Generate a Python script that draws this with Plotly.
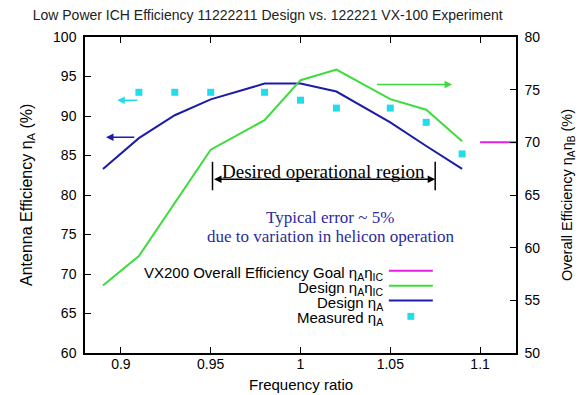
import plotly.graph_objects as go

# Frequency ratio samples for the design curves
freq_design = [0.89, 0.91, 0.93, 0.95, 0.98, 1.00, 1.02, 1.05, 1.07, 1.09]
design_eta_a = [83.3, 87.2, 90.1, 92.1, 94.1, 94.1, 93.1, 89.2, 86.2, 83.3]

freq_overall = [0.89, 0.91, 0.95, 0.98, 1.00, 1.02, 1.05, 1.07, 1.09]
design_eta_a_ic = [56.4, 59.2, 69.3, 72.1, 75.9, 76.9, 74.1, 73.1, 70.1]

# Measured antenna efficiency on the VX-100 experiment
freq_measured = [0.91, 0.93, 0.95, 0.98, 1.00, 1.02, 1.05, 1.07, 1.09]
measured_eta_a = [93.0, 93.0, 93.0, 93.0, 92.0, 91.0, 91.0, 89.2, 85.2]

# VX200 overall efficiency goal
goal_freq = [1.10, 1.12]
goal_value = [70.0, 70.0]

BLUE = "#1c1ca6"
GREEN = "#3ddc3d"
CYAN = "#22dcec"
MAGENTA = "#e61ee6"
NAVY_TEXT = "#2b2ba0"
SANS = "Liberation Sans, Arial, sans-serif"
SERIF = "Liberation Serif, Times New Roman, serif"

fig = go.Figure()

fig.add_trace(go.Scatter(x=goal_freq, y=goal_value, mode="lines",
                         line=dict(color=MAGENTA, width=2), yaxis="y2",
                         showlegend=False))
fig.add_trace(go.Scatter(x=freq_overall, y=design_eta_a_ic, mode="lines",
                         line=dict(color=GREEN, width=2), yaxis="y2",
                         showlegend=False))
fig.add_trace(go.Scatter(x=freq_design, y=design_eta_a, mode="lines",
                         line=dict(color=BLUE, width=2), showlegend=False))
fig.add_trace(go.Scatter(x=freq_measured, y=measured_eta_a, mode="markers",
                         marker=dict(color=CYAN, symbol="square", size=7),
                         showlegend=False))

annotations = []
shapes = []

# Arrows indicating which axis each curve belongs to
def axis_arrow(x_head, x_tail, y, color, yref="y"):
    annotations.append(dict(x=x_head, y=y, ax=x_tail, ay=y, xref="x", yref=yref,
                            axref="x", ayref=yref, showarrow=True, text="",
                            arrowhead=2, arrowsize=1, arrowwidth=1.5,
                            arrowcolor=color))

axis_arrow(0.898, 0.910, 92.0, CYAN)
axis_arrow(0.8917, 0.9083, 87.3, BLUE)
axis_arrow(1.0844, 1.0417, 75.5, GREEN, yref="y2")

# Desired operational region span
region_lo, region_hi = 0.951, 1.075
annotations.append(dict(x=region_hi, y=82.0, ax=region_lo, ay=82.0, xref="x", yref="y",
                        axref="x", ayref="y", showarrow=True, text="",
                        arrowhead=2, startarrowhead=2, arrowside="end+start",
                        arrowsize=1, arrowwidth=1.5, arrowcolor="black"))
for xv in (region_lo, region_hi):
    shapes.append(dict(type="line", xref="x", yref="y", x0=xv, x1=xv, y0=80.6, y1=84.2,
                       line=dict(color="black", width=1.5)))
annotations.append(dict(x=1.0128, y=83.0, xref="x", yref="y", showarrow=False,
                        text="Desired operational region",
                        font=dict(family=SERIF, size=19, color="black")))
annotations.append(dict(x=1.0167, y=77.2, xref="x", yref="y", showarrow=False,
                        text="Typical error ~ 5%",
                        font=dict(family=SERIF, size=17, color=NAVY_TEXT)))
annotations.append(dict(x=1.0167, y=74.8, xref="x", yref="y", showarrow=False,
                        text="due to variation in helicon operation",
                        font=dict(family=SERIF, size=17, color=NAVY_TEXT)))

# Key: labels on the left, line samples on the right
key_rows = [
    ("VX200 Overall Efficiency Goal η<sub>A</sub>η<sub>IC</sub>", MAGENTA, "line", 0.260),
    ("Design η<sub>A</sub>η<sub>IC</sub>", GREEN, "line", 0.213),
    ("Design η<sub>A</sub>", BLUE, "line", 0.166),
    ("Measured η<sub>A</sub>", CYAN, "marker", 0.116),
]
for label, color, kind, yp in key_rows:
    annotations.append(dict(x=0.696, y=yp - 0.008, xref="paper", yref="paper",
                            showarrow=False, xanchor="right", yanchor="middle",
                            text=label,
                            font=dict(family=SANS, size=15, color="black")))
    if kind == "line":
        shapes.append(dict(type="line", xref="paper", yref="paper", x0=0.705, x1=0.807,
                           y0=yp, y1=yp, line=dict(color=color, width=2)))
    else:
        shapes.append(dict(type="rect", xref="paper", yref="paper",
                           x0=0.756 - 0.008, x1=0.756 + 0.008,
                           y0=yp - 0.011, y1=yp + 0.011,
                           fillcolor=color, line=dict(width=0)))

# Axis titles
annotations.append(dict(x=-0.1346, y=0.5, xref="paper", yref="paper", showarrow=False,
                        xanchor="center", yanchor="middle", textangle=-90,
                        text="Antenna Efficiency η<sub>A</sub> (%)",
                        font=dict(family=SANS, size=16, color="black")))
annotations.append(dict(x=1.1206, y=0.5, xref="paper", yref="paper", showarrow=False,
                        xanchor="center", yanchor="middle", textangle=-90,
                        text="Overall Efficiency η<sub>A</sub>η<sub>B</sub> (%)",
                        font=dict(family=SANS, size=14.5, color="black")))
annotations.append(dict(x=0.5, y=-0.101, xref="paper", yref="paper", showarrow=False,
                        xanchor="center", yanchor="middle", text="Frequency ratio",
                        font=dict(family=SANS, size=15, color="black")))

axis_common = dict(showgrid=False, zeroline=False, showline=True, linecolor="black",
                   linewidth=1.5, ticks="inside", ticklen=6, tickwidth=1.2,
                   tickcolor="black", automargin=False,
                   tickfont=dict(family=SANS, size=14, color="black"))

fig.update_layout(
    width=582, height=395,
    margin=dict(l=85, r=66, t=37, b=42),
    paper_bgcolor="white", plot_bgcolor="white",
    title=dict(text="Low Power ICH Efficiency 11222211 Design vs. 122221 VX-100 Experiment",
               x=0.46, xanchor="center", y=0.962, yanchor="middle",
               automargin=False,
               font=dict(family=SANS, size=14, color="#222222")),
    xaxis=dict(range=[0.88, 1.12], tickvals=[0.9, 0.95, 1.0, 1.05, 1.1],
               ticktext=["0.9", "0.95", "1", "1.05", "1.1"], mirror="ticks",
               ticklabelstandoff=-3, **axis_common),
    yaxis=dict(range=[60, 100], dtick=5, ticklabelstandoff=4, **axis_common),
    yaxis2=dict(range=[50, 80], dtick=5, overlaying="y", side="right",
                ticklabelstandoff=4, **axis_common),
    annotations=annotations,
    shapes=shapes,
)

fig.write_html("out.html")
